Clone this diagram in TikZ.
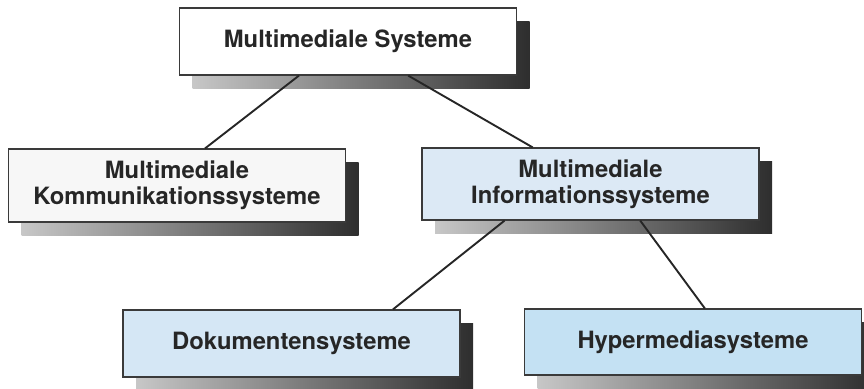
\documentclass[tikz,border=0pt]{standalone}
\usepackage{fontspec}
\setmainfont{TeX Gyre Heros}
\usepackage{xcolor}
\usepackage{tikz}
\usetikzlibrary{positioning,calc,shadows}

\definecolor{boxline}{HTML}{3A3A3A}
\definecolor{boxtext}{HTML}{262626}
\definecolor{komfill}{HTML}{F7F7F7}
\definecolor{inffill}{HTML}{DCE9F5}
\definecolor{dokfill}{HTML}{D5E7F5}
\definecolor{hypfill}{HTML}{C4E1F3}

\tikzset{
	sysbox/.style={draw=boxline, line width=0.6pt, inner sep=0pt, align=center,
		minimum width=168.5pt, text=boxtext,
		font=\fontsize{11.9}{13}\selectfont\bfseries,
		general shadow={shadow xshift=6.5pt, shadow yshift=-7pt,
			left color=black!22, right color=black!82}},
	link/.style={draw=black!85, line width=0.95pt}
}

\begin{document}
\begin{tikzpicture}[x=0.5pt, y=-0.5pt]
						\useasboundingbox (0, 0) rectangle (864, 389);

						\node[sysbox, fill=white, minimum height=33.5pt] (SYS) at (348, 41.5) {Multimediale Systeme};

						\node[sysbox, fill=komfill, minimum height=36.5pt] (KOM) at (177, 185.5) {Multimediale\\Kommunikationssysteme};
						\node[sysbox, fill=inffill, minimum height=36pt] (INF) at (590.5, 184) {Multimediale\\Informationssysteme};

						\node[sysbox, fill=dokfill, minimum height=33.5pt] (DOK) at (291.5, 343.5) {Dokumentensysteme};
						\node[sysbox, fill=hypfill, minimum height=33pt] (HYP) at (693, 342) {Hypermediasysteme};

						\draw[link] ($(SYS.south west)!0.355!(SYS.south east)$) -- ($(KOM.north west)!0.583!(KOM.north east)$);
						\draw[link] ($(SYS.south west)!0.678!(SYS.south east)$) -- ($(INF.north west)!0.329!(INF.north east)$);

						\draw[link] ($(INF.south west)!0.246!(INF.south east)$) -- ($(DOK.north west)!0.8!(DOK.north east)$);
						\draw[link] ($(INF.south west)!0.647!(INF.south east)$) -- ($(HYP.north west)!0.535!(HYP.north east)$);
					\end{tikzpicture}
\end{document}
